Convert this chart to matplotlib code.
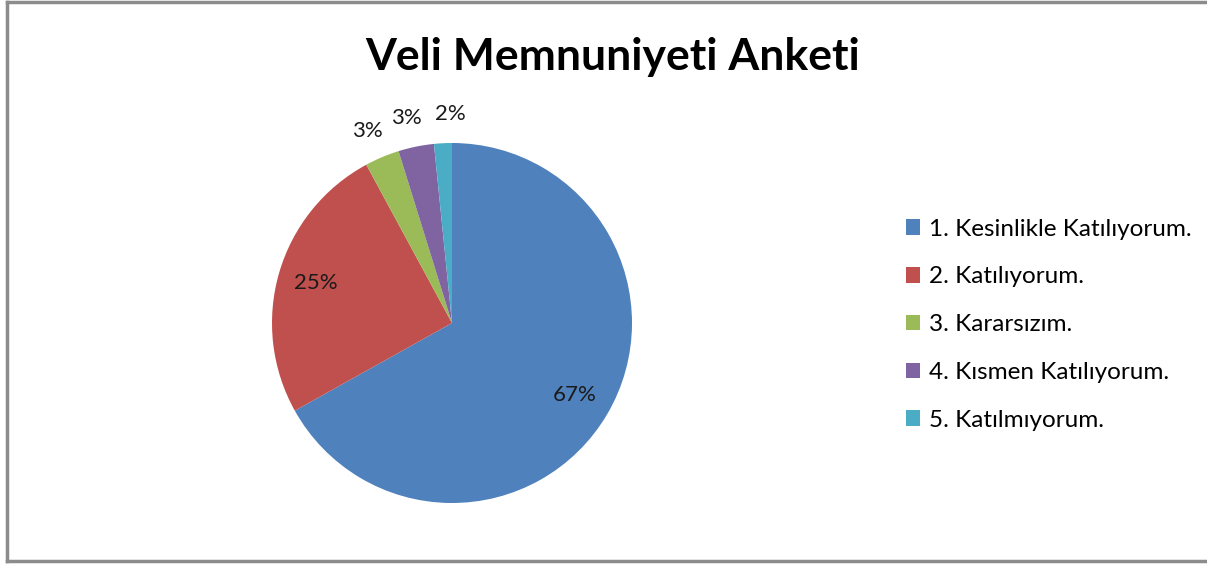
import matplotlib.pyplot as plt
from matplotlib.lines import Line2D
import numpy as np

categories = ['1. Kesinlikle Katılıyorum.', '2. Katılıyorum.', '3. Kararsızım.',
              '4. Kısmen Katılıyorum.', '5. Katılmıyorum.']
values = [66.9, 25.2, 3.1, 3.2, 1.6]
colors = ['#4F81BD', '#C0504D', '#9BBB59', '#8064A2', '#4BACC6']

plt.rcParams['font.family'] = ['Lato', 'DejaVu Sans']

W, H = 1207, 565
fig = plt.figure(figsize=(W / 100, H / 100), dpi=100)

# pie axes: centre (452, 323), radius 180 px
r = 180
ax = fig.add_axes([(452 - r) / W, 1 - (323 + r) / H, 2 * r / W, 2 * r / H])
wedges, texts, autotexts = ax.pie(values, colors=colors, startangle=90, counterclock=False,
                                  autopct='%.0f%%', pctdistance=0.79,
                                  wedgeprops=dict(linewidth=0),
                                  textprops=dict(fontsize=16, color='#1a1a1a'))
ax.set_aspect('equal')
ax.set_xlim(-1, 1)
ax.set_ylim(-1, 1)

# small slices get their labels outside, nudged apart like Excel does
nudge = {2: -0.02, 3: -0.02, 4: 0.05}
for i, (w, t) in enumerate(zip(wedges, autotexts)):
    if (w.theta2 - w.theta1) < 20:
        ang = np.deg2rad((w.theta1 + w.theta2) / 2)
        t.set_position((1.16 * np.cos(ang) + nudge.get(i, 0), 1.16 * np.sin(ang)))
        t.set_clip_on(False)

fig.text(613 / W, 1 - 57 / H, 'Veli Memnuniyeti Anketi', ha='center', va='center',
         fontsize=32, fontweight='bold', color='black')

leg = fig.legend(wedges, categories, loc='upper left', bbox_to_anchor=(896 / W, 1 - 209 / H),
                 frameon=False, fontsize=17.5, handlelength=0.6, handleheight=0.6,
                 handletextpad=0.35, labelspacing=1.1, borderaxespad=0)

# outer frame
fc = '#8c8c8c'
fig.add_artist(Line2D([7 / W, 1], [1 - 1.5 / H, 1 - 1.5 / H], color=fc, lw=2.5))
fig.add_artist(Line2D([7 / W, 7 / W], [1 - 1.5 / H, 1 - 561 / H], color=fc, lw=2.5))
fig.add_artist(Line2D([7 / W, 1], [1 - 561 / H, 1 - 561 / H], color=fc, lw=2.5))

fig.savefig('out.png', dpi=100, facecolor='white')
